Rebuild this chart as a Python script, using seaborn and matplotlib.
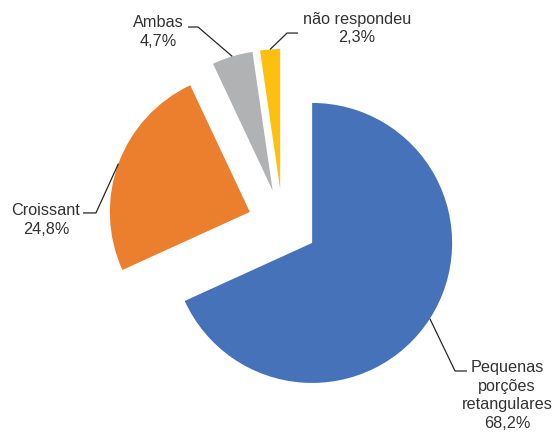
import numpy as np
import matplotlib
matplotlib.use("Agg")
import matplotlib.pyplot as plt
import seaborn as sns

# ---- data ----
categories = ["Pequenas\nporções\nretangulares", "Croissant", "Ambas", "não respondeu"]
values = [68.2, 24.8, 4.7, 2.3]
colors = ["#4672B9", "#EC7F2E", "#B1B2B4", "#FDC010"]

# ---- layout (data units, radius = 1) ----
text_pos = [(1.602, -1.225), (-1.691, 0.030), (-0.891, 1.371), (0.531, 1.395)]
elbow_pos = [(1.231, -1.05), (-1.334, 0.079), (-0.605, 1.407), (0.031, 1.364)]
hline_end = [(1.316, -1.05), (-1.426, 0.079), (-0.676, 1.407), (0.109, 1.364)]

sns.set_theme(style="white")
plt.rcParams["font.family"] = ["Liberation Sans", "DejaVu Sans"]

fig = plt.figure(figsize=(5.55, 4.32), dpi=100)
ax = fig.add_axes([0, 0, 1, 1])

explode = [0.25] * len(values)
wedges, _ = ax.pie(values, startangle=90, counterclock=False, explode=explode,
                   colors=colors, radius=1.0,
                   wedgeprops=dict(linewidth=0, edgecolor="none"))

for w, lab, v, tp, ep, he in zip(wedges, categories, values, text_pos, elbow_pos, hline_end):
    mid = np.deg2rad((w.theta1 + w.theta2) / 2)
    cx, cy = w.center
    ax_pt = (cx + w.r * np.cos(mid), cy + w.r * np.sin(mid))
    ax.plot([ax_pt[0], ep[0], he[0]], [ax_pt[1], ep[1], he[1]],
            color="#262626", lw=0.9, solid_capstyle="butt", zorder=3)
    pct = f"{v:.1f}".replace(".", ",") + "%"
    ax.text(tp[0], tp[1], f"{lab}\n{pct}", ha="center", va="center",
            multialignment="center", fontsize=11.7, color="#333333",
            linespacing=1.3)

ax.set_aspect("auto")
ax.set_xlim(-282.7 / 140, (555 - 282.7) / 140)
ax.set_ylim(-(432 - 224) / 140, 224 / 140)
ax.axis("off")

fig.savefig("out.png", dpi=100, facecolor="white")
